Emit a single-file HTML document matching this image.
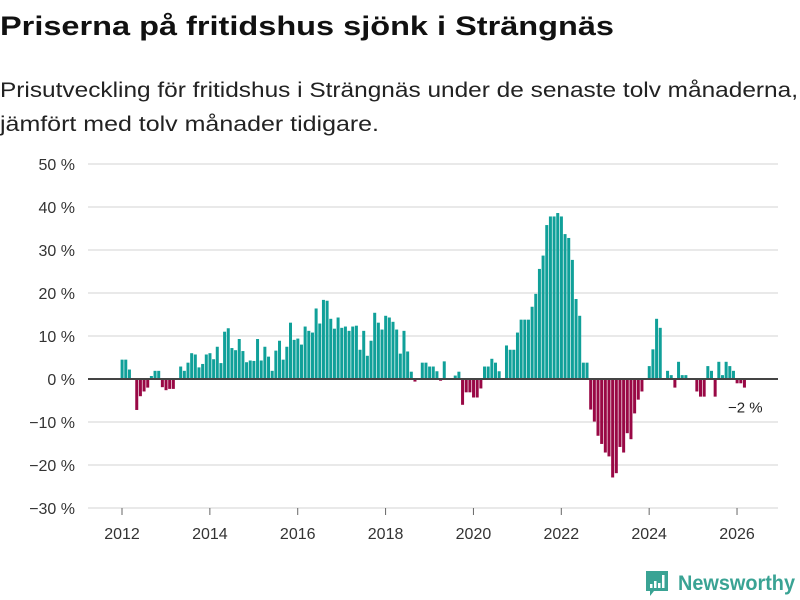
<!DOCTYPE html>
<html><head><meta charset="utf-8"><style>
html,body{margin:0;padding:0;background:#fff;}
svg{display:block;font-family:"Liberation Sans",sans-serif;}
</style></head><body>
<svg id="chart" width="800" height="600" viewBox="0 0 800 600">
<text x="0" y="35" font-size="27" font-weight="bold" fill="#111" textLength="614" lengthAdjust="spacingAndGlyphs">Priserna på fritidshus sjönk i Strängnäs</text>
<text x="0" y="97" font-size="21" fill="#222" textLength="798" lengthAdjust="spacingAndGlyphs">Prisutveckling för fritidshus i Strängnäs under de senaste tolv månaderna,</text>
<text x="0" y="131" font-size="21" fill="#222" textLength="379" lengthAdjust="spacingAndGlyphs">jämfört med tolv månader tidigare.</text>
<g id="grid"></g>
<g id="bars"></g>
<g id="xaxis"></g>
<g>
<path d="M646 571 h22 v20 h-14 l-4 5 v-5 h-4 z" fill="#3aa394"/>
<rect x="650" y="584" width="2.5" height="4" fill="#fff"/>
<rect x="654" y="581" width="2.5" height="7" fill="#fff"/>
<rect x="658" y="583" width="2.5" height="5" fill="#fff"/>
<rect x="662" y="575" width="2.5" height="13" fill="#fff"/>
<text x="678" y="590" font-size="21" font-weight="bold" fill="#3aa394" textLength="117" lengthAdjust="spacingAndGlyphs">Newsworthy</text>
</g>
</svg>
<script>
const startYear = 2012;
const values = [
4.5,4.5,2.2,0,-7.2,-4,-2.9,-2,0.7,1.9,1.9,-1.9,
-2.6,-2.3,-2.3,0,2.9,1.9,3.8,6,5.7,2.7,3.5,5.7,
6,4.6,7.5,3.7,11,11.8,7.2,6.7,9.3,6.5,3.9,4.3,
4.2,9.3,4.3,7.5,5.2,1.9,6.6,8.9,4.5,7.5,13.1,9.1,
9.4,8,12.2,11.2,10.8,16.4,12.9,18.4,18.2,14,11.7,14.3,
11.9,12.2,11.2,12.2,12.4,6.8,11.2,5.4,8.9,15.4,13.1,11.5,
14.7,14.3,13.3,11.5,5.9,11.2,6.4,1.7,-0.6,0.2,3.8,3.8,
2.9,2.9,1.8,-0.4,4.1,0,0,0.8,1.7,-6,-3.1,-3.1,
-4.3,-4.3,-2.2,2.9,2.9,4.7,3.8,1.8,0,7.8,6.8,6.8,
10.8,13.8,13.8,13.8,16.8,19.8,25.6,28.7,35.8,37.8,37.8,38.6,
37.8,33.7,32.8,27.7,18.6,14.7,3.8,3.8,-7.1,-9.9,-13.2,-15.1,
-17.1,-18,-22.9,-21.9,-15.8,-17.1,-12.6,-14,-8,-4.8,-2.9,0,
3,6.9,14,11.9,0,1.9,0.9,-2,4,0.9,0.9,0,
0,-2.9,-4.1,-4.1,3,1.9,-4.1,4,0.9,4,3,1.9,
-1,-1,-2
];
const yTicks = [-30,-20,-10,0,10,20,30,40,50];
const xTicks = [2012,2014,2016,2018,2020,2022,2024,2026];
const lastLabel = "\u22122 %";

const NS = "http://www.w3.org/2000/svg";
const yScale = v => 379 - v * 4.3;
const xScale = t => 122 + (t - startYear) * 43.93;
function mk(tag, attrs, parent){const e=document.createElementNS(NS,tag);for(const k in attrs)e.setAttribute(k,attrs[k]);parent.appendChild(e);return e;}
const grid=document.getElementById('grid'), bars=document.getElementById('bars'), xa=document.getElementById('xaxis');
yTicks.forEach(t=>{
  const y=yScale(t);
  if(t!==0){const l=mk('line',{x1:88,x2:778,y1:y,y2:y,stroke:'#dcdcdc','stroke-width':1.3},grid);
  
  }
  const tx=mk('text',{x:75,y:y+6,'text-anchor':'end','font-size':16,fill:'#333'},grid);
  tx.textContent=(t<0?'\u2212'+Math.abs(t):t)+' %';
  
  
});
values.forEach((v,i)=>{
  const x=xScale(startYear+i/12)-1.4;
  const y0=yScale(0), y1=yScale(v);
  const r=mk('rect',{x:x,y:Math.min(y0,y1),width:3,height:Math.abs(y1-y0),fill:v>=0?'#10a099':'#990845'},bars);
  
  
});
const zl=mk('line',{x1:88,x2:778,y1:yScale(0),y2:yScale(0),stroke:'#444','stroke-width':2},bars);


xTicks.forEach(t=>{
  const x=xScale(t);
  const l=mk('line',{x1:x,x2:x,y1:508,y2:515,stroke:'#666','stroke-width':1},xa);
  
  
  const tx=mk('text',{x:x,y:539,'text-anchor':'middle','font-size':16,fill:'#333'},xa);
  tx.textContent=t;
  
  
});
const lastI=values.length-1;
const lab=mk('text',{x:xScale(startYear+lastI/12)+1,y:yScale(values[lastI])+25,'text-anchor':'middle','font-size':15,fill:'#222'},bars);
lab.textContent=lastLabel;


</script>
</body></html>
